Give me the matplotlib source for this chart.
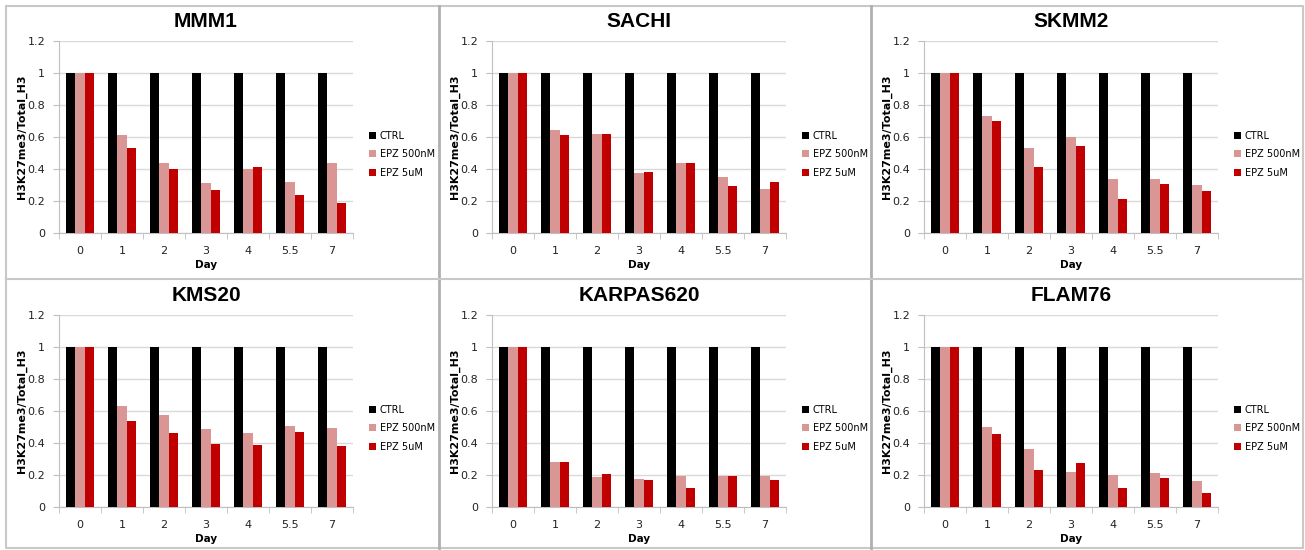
import numpy as np
import matplotlib
matplotlib.use("Agg")
import matplotlib.pyplot as plt
from matplotlib.lines import Line2D

days = ["0", "1", "2", "3", "4", "5.5", "7"]
series_names = ["CTRL", "EPZ 500nM", "EPZ 5uM"]
cell_lines = ["MMM1", "SACHI", "SKMM2", "KMS20", "KARPAS620", "FLAM76"]

ctrl = [1, 1, 1, 1, 1, 1, 1]
mmm1_500 = [1, 0.61, 0.44, 0.31, 0.40, 0.32, 0.44]
mmm1_5u = [1, 0.53, 0.40, 0.27, 0.41, 0.24, 0.19]
sachi_500 = [1, 0.645, 0.62, 0.375, 0.435, 0.35, 0.275]
sachi_5u = [1, 0.61, 0.62, 0.38, 0.44, 0.295, 0.32]
skmm2_500 = [1, 0.73, 0.53, 0.60, 0.34, 0.34, 0.30]
skmm2_5u = [1, 0.70, 0.415, 0.545, 0.21, 0.305, 0.26]
kms20_500 = [1, 0.63, 0.575, 0.49, 0.46, 0.505, 0.495]
kms20_5u = [1, 0.535, 0.46, 0.395, 0.385, 0.47, 0.38]
karpas_500 = [1, 0.28, 0.185, 0.175, 0.195, 0.195, 0.195]
karpas_5u = [1, 0.28, 0.205, 0.17, 0.12, 0.195, 0.17]
flam76_500 = [1, 0.50, 0.365, 0.22, 0.20, 0.215, 0.16]
flam76_5u = [1, 0.455, 0.23, 0.275, 0.12, 0.18, 0.09]

data = [
    (ctrl, mmm1_500, mmm1_5u),
    (ctrl, sachi_500, sachi_5u),
    (ctrl, skmm2_500, skmm2_5u),
    (ctrl, kms20_500, kms20_5u),
    (ctrl, karpas_500, karpas_5u),
    (ctrl, flam76_500, flam76_5u),
]

colors = ["#000000", "#D99694", "#C00000"]
W, H = 1305, 550
fig = plt.figure(figsize=(W / 100, H / 100), dpi=100)

# panel frames
border = "#B0B0B0"
fig.add_artist(Line2D([6 / W, 1303 / W, 1303 / W, 6 / W, 6 / W],
                      [1 - 6 / H, 1 - 6 / H, 1 - 548 / H, 1 - 548 / H, 1 - 6 / H],
                      color="#C8C8C8", lw=1.5))
for xv in [439, 871]:
    fig.add_artist(Line2D([xv / W, xv / W], [1 - 6 / H, 1 - 548 / H], color=border, lw=2))
fig.add_artist(Line2D([6 / W, 1303 / W], [1 - 279 / H, 1 - 279 / H], color="#C8C8C8", lw=1.5))

col_left = [6, 439, 871]
row_top = [41, 315]
plot_h = 192
plot_w = 294
w = 0.215
x = np.arange(len(days))

for i, name in enumerate(cell_lines):
    r, c = divmod(i, 3)
    left = col_left[c] + 53
    top = row_top[r]
    ax = fig.add_axes([left / W, 1 - (top + plot_h) / H, plot_w / W, plot_h / H])
    for k, vals in enumerate(data[i]):
        ax.bar(x + (k - 1) * w, vals, w, color=colors[k], label=series_names[k], zorder=3)
    ax.set_xlim(-0.5, 6.5)
    ax.set_ylim(0, 1.2)
    ax.set_yticks([0, 0.2, 0.4, 0.6, 0.8, 1, 1.2])
    ax.set_yticklabels(["0", "0.2", "0.4", "0.6", "0.8", "1", "1.2"])
    ax.set_xticks(x)
    ax.set_xticklabels(days)
    ax.set_xticks(np.arange(-0.5, 7, 1), minor=True)
    ax.tick_params(axis="x", which="major", length=0, pad=9, labelsize=8, colors="#222222")
    ax.tick_params(axis="x", which="minor", length=4, color="#BFBFBF", direction="out")
    ax.tick_params(axis="y", length=4, color="#BFBFBF", labelsize=8, pad=6, colors="#222222")
    ax.tick_params(axis="y", color="#BFBFBF")
    ax.grid(axis="y", color="#D9D9D9", lw=1, zorder=0)
    for s in ["top", "right"]:
        ax.spines[s].set_visible(False)
    for s in ["left", "bottom"]:
        ax.spines[s].set_color("#BFBFBF")
    ax.set_title(name, fontsize=15, fontweight="bold", family="Liberation Sans", pad=10)
    ax.set_xlabel("Day", fontsize=7.5, fontweight="bold", labelpad=3)
    ax.set_ylabel("H3K27me3/Total_H3", fontsize=8, fontweight="bold", labelpad=0)
    ax.legend(loc="center left", bbox_to_anchor=(1.04, 0.41), frameon=False,
              fontsize=7, handlelength=0.75, handleheight=0.75, handletextpad=0.4,
              labelspacing=0.85, borderaxespad=0)

fig.savefig("out.png", dpi=100)
